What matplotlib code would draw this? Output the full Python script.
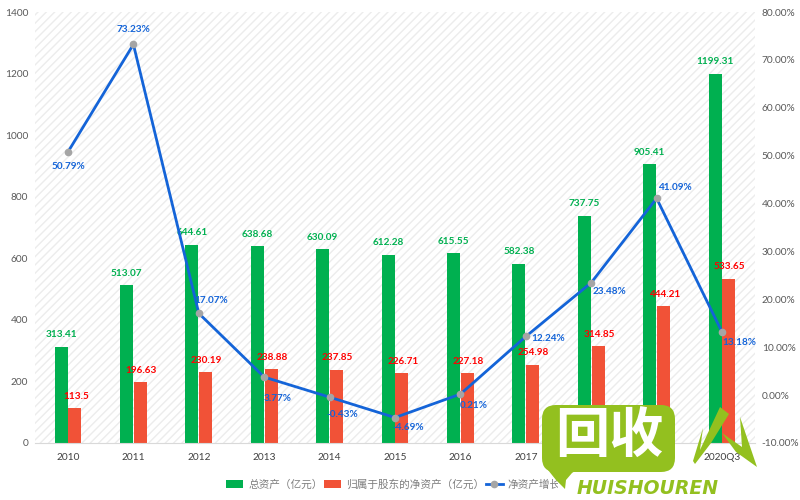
import matplotlib
matplotlib.use("Agg")
import numpy as np
import matplotlib.pyplot as plt
from matplotlib.patches import FancyBboxPatch, Polygon, Rectangle

plt.rcParams['font.family'] = ['Lato', 'Noto Sans CJK SC', 'DejaVu Sans']
plt.rcParams['hatch.linewidth'] = 1.0

years = ['2010', '2011', '2012', '2013', '2014', '2015', '2016', '2017', '2018', '2019', '2020Q3']
total_assets = [313.41, 513.07, 644.61, 638.68, 630.09, 612.28, 615.55, 582.38, 737.75, 905.41, 1199.31]
net_assets = [113.5, 196.63, 230.19, 238.88, 237.85, 226.71, 227.18, 254.98, 314.85, 444.21, 533.65]
growth = [50.79, 73.23, 17.07, 3.77, -0.43, -4.69, 0.21, 12.24, 23.48, 41.09, 13.18]

# label offsets for the growth line, in pixels
growth_dx = [0, 0, 12, 13, 13, 13, 13, 22, 18, 18, 17]
growth_dy = [-15, 15, 13, -21, -17, -10, -11, -2, -9, 11, -11]

GREEN = '#00b050'
RED = '#f15237'
BLUE = '#1464d8'
GREY = '#595959'

fig = plt.figure(figsize=(8, 5), dpi=100)
ax = fig.add_axes([35.3 / 800, 1 - 443 / 500, 719.4 / 800, 431 / 500])
ax.set_facecolor('white')
ax.add_patch(Rectangle((0, 0), 1, 1, transform=ax.transAxes, facecolor='white',
                       edgecolor='#ececec', hatch='////', linewidth=0, zorder=0))

x = np.arange(len(years))
b1 = ax.bar(x - 0.105, total_assets, 0.2, color=GREEN, label='总资产（亿元）', zorder=2)
b2 = ax.bar(x + 0.105, net_assets, 0.2, color=RED, label='归属于股东的净资产（亿元）', zorder=2)
ax.set_xlim(-0.5, len(years) - 0.5)
ax.set_ylim(0, 1400)
ax.set_xticks(x)
ax.set_xticklabels(years)
ax.set_yticks(np.arange(0, 1401, 200))
ax.tick_params(axis='x', length=0, labelsize=7.3, labelcolor='#404040', pad=7)
ax.tick_params(axis='y', length=0, labelsize=7.3, labelcolor=GREY, pad=5)
for s in ['top', 'left', 'right']:
    ax.spines[s].set_visible(False)
ax.spines['bottom'].set_color('#d9d9d9')

for i in x:
    ax.annotate(f'{total_assets[i]:g}', (i - 0.105, total_assets[i]), xytext=(0, 12),
                textcoords='offset pixels', ha='center', va='center', color=GREEN,
                fontsize=7.2, fontweight='bold', zorder=6)
    ax.annotate(f'{net_assets[i]:g}', (i + 0.105, net_assets[i]), xytext=(1, 12),
                textcoords='offset pixels', ha='center', va='center', color='#ff0000',
                fontsize=7.2, fontweight='bold', zorder=6)

ax2 = ax.twinx()
ax2.set_ylim(-10, 80)
ax2.set_yticks(np.arange(-10, 81, 10))
ax2.set_yticklabels([f'{v:.2f}%' for v in np.arange(-10, 81, 10)])
ax2.tick_params(axis='y', length=0, labelsize=7.3, labelcolor=GREY, pad=5)
for s in ax2.spines.values():
    s.set_visible(False)
l1, = ax2.plot(x, growth, color=BLUE, lw=2, marker='o', ms=4.5, mfc='#a5a5a5', mec='#a5a5a5',
               label='净资产增长率', zorder=4)
for i in x:
    ax2.annotate(f'{growth[i]:.2f}%', (i, growth[i]), xytext=(growth_dx[i], growth_dy[i]),
                 textcoords='offset pixels', ha='center', va='center', color=BLUE,
                 fontsize=7.2, fontweight='bold', zorder=6)

fig.legend(handles=[b1, b2, l1], loc='center', bbox_to_anchor=(399 / 800, 1 - 484 / 500), ncol=3,
           frameon=False, fontsize=7.7, labelcolor='#7f7f7f', handlelength=1.6, handleheight=0.8,
           columnspacing=0.15, handletextpad=0.45, borderpad=0)

# site watermark, drawn in figure pixels over everything
LOGO = '#93c01f'
wm = fig.add_axes([0, 0, 1, 1], zorder=10)
wm.set_xlim(0, 800)
wm.set_ylim(500, 0)
wm.axis('off')
wm.add_patch(Polygon([[558, 476], [580, 470], [580, 500], [558, 500]], fc='white', ec='none'))
wm.add_patch(FancyBboxPatch((542, 405), 133, 67, boxstyle='round,pad=0,rounding_size=14',
                            fc=LOGO, ec='none'))
wm.add_patch(Polygon([[543, 455], [548, 470], [556, 480], [565, 489], [566, 480], [572, 473], [575, 471]],
                     fc=LOGO, ec='none'))
wm.text(609, 437, '回收', color='white', fontsize=39, fontweight='bold', ha='center', va='center',
        family=['Noto Sans CJK SC'])
wm.text(647.5, 488, 'HUISHOUREN', color=LOGO, fontsize=13.6, fontweight='bold', style='italic',
        ha='center', va='center', family=['DejaVu Sans'])
wm.add_patch(Polygon([[720, 407], [729, 414], [711, 443], [695, 464], [693, 461], [703, 428], [700, 450]],
                     fc=LOGO, ec='none'))
wm.add_patch(Polygon([[722, 433], [742, 447], [740, 417], [757, 467], [736, 452]], fc=LOGO, ec='none'))

fig.savefig('out.png', dpi=100)
